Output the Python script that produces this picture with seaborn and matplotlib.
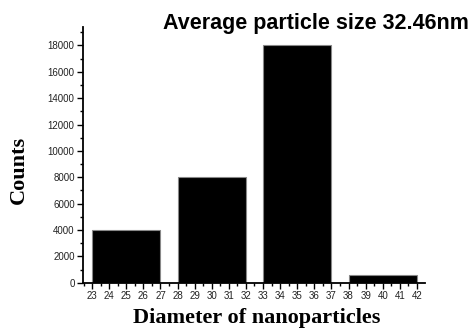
import matplotlib
matplotlib.use("Agg")
import matplotlib.pyplot as plt
from matplotlib.ticker import MultipleLocator
import seaborn as sns
import pandas as pd

centers = [25, 30, 35, 40]
counts = [4000, 8000, 18000, 560]
x_ticks = list(range(23, 43))
y_ticks = list(range(0, 18001, 2000))

sns.set_style("ticks")
plt.rcParams['font.family'] = ['Liberation Sans', 'DejaVu Sans']

df = pd.DataFrame({"diameter": centers, "count": counts})

fig = plt.figure(figsize=(4.71, 3.29), dpi=100)
ax = fig.add_axes([0.1762, 0.1407, 0.7261, 0.7773])

sns.barplot(data=df, x="diameter", y="count", native_scale=True, width=0.8,
            color="black", edgecolor="#888888", linewidth=0.8, saturation=1,
            ax=ax)

ax.set_xlim(22.47, 42.47)
ax.set_ylim(0, 19400)
ax.set_xticks(x_ticks)
ax.set_xticklabels([str(t) for t in x_ticks])
ax.set_yticks(y_ticks)
ax.set_yticklabels([str(t) for t in y_ticks])
ax.xaxis.set_minor_locator(MultipleLocator(0.5))
ax.yaxis.set_minor_locator(MultipleLocator(1000))
ax.tick_params(axis="both", which="major", direction="out", length=4, width=1,
               labelsize=7, colors="black", labelcolor="#222222", pad=2)
ax.tick_params(axis="both", which="minor", direction="out", length=2.5, width=1,
               colors="black")
for s in ["top", "right"]:
    ax.spines[s].set_visible(False)
for s in ["left", "bottom"]:
    ax.spines[s].set_linewidth(1.3)
    ax.spines[s].set_color("black")
ax.set_xlabel("")
ax.set_ylabel("")

fig.text(316 / 471, 1 - 23 / 329, "Average particle size 32.46nm",
         ha="center", va="center", fontsize=15.5, fontweight="bold",
         color="black", family=["Liberation Sans", "DejaVu Sans"])
fig.text(257 / 471, 1 - 318 / 329, "Diameter of nanoparticles",
         ha="center", va="center", fontsize=16, fontweight="bold",
         color="black", family=["Liberation Serif", "DejaVu Serif"])
fig.text(19 / 471, 1 - 170 / 329, "Counts", rotation=90,
         ha="center", va="center", fontsize=16, fontweight="bold",
         color="black", family=["Liberation Serif", "DejaVu Serif"])

fig.savefig("out.png", dpi=100)
